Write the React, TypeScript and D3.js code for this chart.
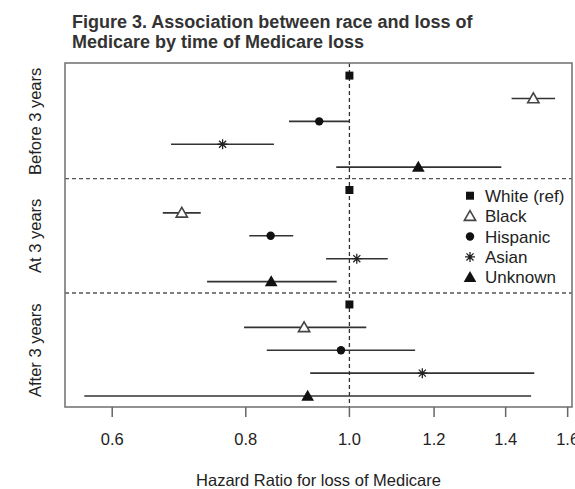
import React from "react";
import * as d3 from "d3";

const groups = ["Before 3 years", "At 3 years", "After 3 years"];
const races = ["White (ref)", "Black", "Hispanic", "Asian", "Unknown"];

const hrBefore = [1.0, 1.486, 0.937, 0.761, 1.16];
const lowBefore = [null, 1.418, 0.878, 0.681, 0.972];
const highBefore = [null, 1.557, 1.0, 0.85, 1.387];

const hrAt = [1.0, 0.697, 0.844, 1.016, 0.845];
const lowAt = [null, 0.669, 0.806, 0.951, 0.736];
const highAt = [null, 0.726, 0.886, 1.086, 0.973];

const hrAfter = [1.0, 0.907, 0.982, 1.17, 0.914];
const lowAfter = [null, 0.797, 0.837, 0.919, 0.565];
const highAfter = [null, 1.037, 1.152, 1.489, 1.479];

const xTicks = [0.6, 0.8, 1.0, 1.2, 1.4, 1.6];

const W = 575;
const H = 489;
const left = 65;
const right = 572;
const top = 63;
const bottom = 407;

const FONT = "'Liberation Sans', Arial, Helvetica, sans-serif";

type Row = { group: number; race: number; hr: number; lo: number | null; hi: number | null; idx: number };

const rows: Row[] = [];
const sets = [
  [hrBefore, lowBefore, highBefore],
  [hrAt, lowAt, highAt],
  [hrAfter, lowAfter, highAfter],
];
sets.forEach((s, g) => {
  s[0].forEach((v, r) => {
    rows.push({ group: g, race: r, hr: v as number, lo: s[1][r] as number | null, hi: s[2][r] as number | null, idx: g * races.length + r });
  });
});

const x = d3.scaleLog().domain([0.542, 1.615]).range([left, right]);
const y = d3.scaleLinear().domain([-0.55, 14.48]).range([top, bottom]);

function Marker({ kind, cx, cy }: { kind: number; cx: number; cy: number }) {
  if (kind === 0) {
    const p = d3.symbol().type(d3.symbolSquare).size(64)();
    return <path d={p || ""} transform={`translate(${cx},${cy})`} fill="#111" />;
  }
  if (kind === 1) {
    const p = d3.symbol().type(d3.symbolTriangle).size(55)();
    return <path d={p || ""} transform={`translate(${cx},${cy + 1})`} fill="#fff" stroke="#444" strokeWidth={1.6} />;
  }
  if (kind === 2) {
    return <circle cx={cx} cy={cy} r={4.2} fill="#111" />;
  }
  if (kind === 3) {
    const r = 5;
    const d = r * Math.SQRT1_2;
    const path = `M${-r},0L${r},0M0,${-r}L0,${r}M${-d},${-d}L${d},${d}M${-d},${d}L${d},${-d}`;
    return <path d={path} transform={`translate(${cx},${cy})`} stroke="#222" strokeWidth={1.3} fill="none" />;
  }
  const p = d3.symbol().type(d3.symbolTriangle).size(70)();
  return <path d={p || ""} transform={`translate(${cx},${cy + 1})`} fill="#111" />;
}

export default function App() {
  const legendX = 470;
  const legendY0 = 195.7;
  const legendStep = 20.4;
  return (
    <svg width={W} height={H} style={{ position: "absolute", left: 0, top: 0, background: "#fff" }} fontFamily={FONT}>
      <rect x={0} y={0} width={W} height={H} fill="#fff" />
      <text x={72} y={28} fontSize={18} fontWeight="bold" fill="#333">
        Figure 3. Association between race and loss of
      </text>
      <text x={72} y={48} fontSize={18} fontWeight="bold" fill="#333">
        Medicare by time of Medicare loss
      </text>

      {/* group separators */}
      {[4.5, 9.5].map((v) => (
        <line key={v} x1={left} x2={right} y1={y(v)} y2={y(v)} stroke="#555" strokeWidth={1.3} strokeDasharray="4,3" />
      ))}
      {/* reference line */}
      <line x1={x(1)} x2={x(1)} y1={top} y2={bottom} stroke="#333" strokeWidth={1.3} strokeDasharray="4,3" />

      {/* CIs */}
      {rows.map((r) =>
        r.lo != null && r.hi != null ? (
          <line key={"ci" + r.idx} x1={x(r.lo)} x2={x(r.hi)} y1={y(r.idx)} y2={y(r.idx)} stroke="#333" strokeWidth={1.6} />
        ) : null
      )}
      {rows.map((r) => (
        <Marker key={"m" + r.idx} kind={r.race} cx={x(r.hr)} cy={y(r.idx)} />
      ))}

      {/* frame */}
      <rect x={left} y={top} width={right - left} height={bottom - top} fill="none" stroke="#777" strokeWidth={1.6} />

      {/* x axis ticks */}
      {xTicks.map((t) => (
        <g key={t}>
          <line x1={x(t)} x2={x(t)} y1={bottom} y2={bottom + 10} stroke="#666" strokeWidth={1.5} />
          <text x={x(t)} y={445} textAnchor="middle" fontSize={16.5} fill="#222">
            {d3.format(".1f")(t)}
          </text>
        </g>
      ))}
      <text x={(left + right) / 2} y={486} textAnchor="middle" fontSize={16.5} fill="#222">
        Hazard Ratio for loss of Medicare
      </text>

      {/* group labels */}
      {groups.map((g, i) => (
        <text
          key={g}
          transform={`translate(41,${y(i * 5 + 2)}) rotate(-90)`}
          textAnchor="middle"
          fontSize={16.5}
          fill="#222"
        >
          {g}
        </text>
      ))}

      {/* legend */}
      {races.map((r, i) => (
        <g key={r}>
          <Marker kind={i} cx={legendX} cy={legendY0 + i * legendStep} />
          <text x={485} y={legendY0 + i * legendStep + 6} fontSize={17} fill="#222">
            {r}
          </text>
        </g>
      ))}
    </svg>
  );
}
